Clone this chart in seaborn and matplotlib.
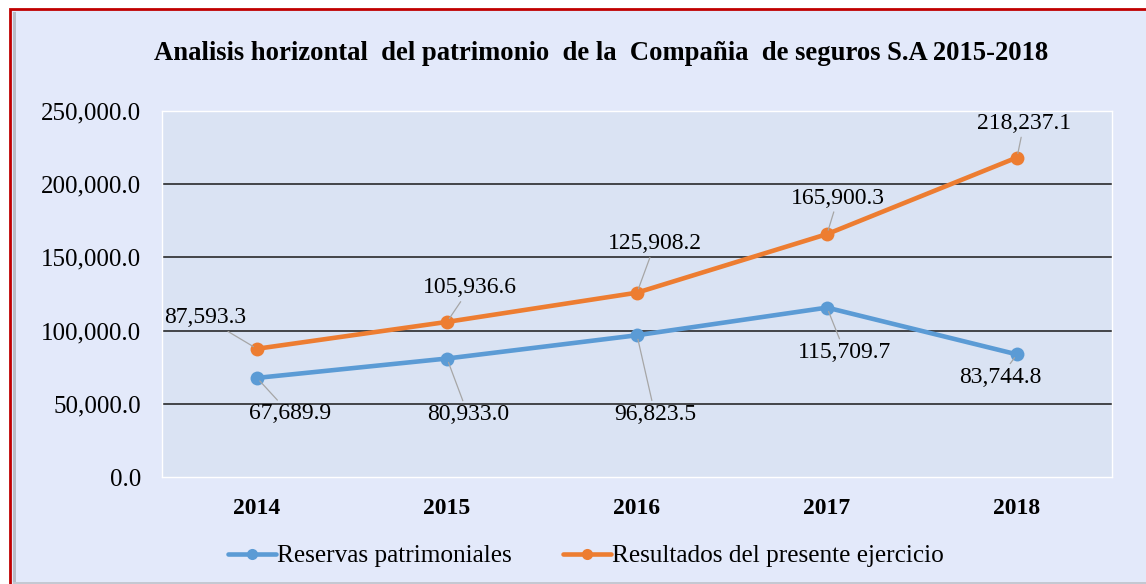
import matplotlib.pyplot as plt
import pandas as pd
import seaborn as sns
from matplotlib.patches import Rectangle

years = [2014, 2015, 2016, 2017, 2018]
reservas = [67689.9, 80933.0, 96823.5, 115709.7, 83744.8]
resultados = [87593.3, 105936.6, 125908.2, 165900.3, 218237.1]
series_names = ["Reservas patrimoniales", "Resultados del presente ejercicio"]
title = "Analisis horizontal  del patrimonio  de la  Compañia  de seguros S.A 2015-2018"

BLUE = "#5B9BD5"
ORANGE = "#ED7D31"

sns.set_theme(style="white")
plt.rcParams["font.family"] = ["Liberation Serif", "DejaVu Serif"]
plt.rcParams.update({"text.color": "black", "xtick.color": "black", "ytick.color": "black"})

df = pd.DataFrame({
    "year": years * 2,
    "value": reservas + resultados,
    "serie": [series_names[0]] * 5 + [series_names[1]] * 5,
})

W, H = 1146, 584
fig = plt.figure(figsize=(W / 100, H / 100), dpi=100)
fig.patch.set_facecolor("white")
# outer chart frame
fig.patches.append(Rectangle((10 / W, -2 / H), (W + 10) / W, (H - 7) / H, transform=fig.transFigure,
                             facecolor="#E3E9FA", edgecolor="#C00000", lw=2, zorder=-2))
fig.patches.append(Rectangle((13 / W, 0), 3 / W, (H - 12) / H, transform=fig.transFigure,
                             facecolor="#B8BCC6", edgecolor="none", zorder=-1))
fig.patches.append(Rectangle((13 / W, 0), (W - 13) / W, 2 / H, transform=fig.transFigure,
                             facecolor="#C4C8D2", edgecolor="none", zorder=-1))

ax = fig.add_axes([162 / W, (H - 477) / H, 950 / W, 366 / H])
ax.set_zorder(1)
ax.set_facecolor("#DAE3F3")

sns.lineplot(data=df, x="year", y="value", hue="serie", palette=[BLUE, ORANGE],
             marker="o", markersize=10, markeredgewidth=0, linewidth=3.3, ax=ax, legend=False)

ax.set_xlim(2013.5, 2018.5)
ax.set_ylim(0, 250000)
ax.set_yticks(range(0, 250001, 50000))
ax.set_yticklabels([f"{v:,.1f}" for v in range(0, 250001, 50000)], fontsize=18)
ax.set_xticks(years)
ax.set_xticklabels([str(y) for y in years], fontsize=17, fontweight="bold")
ax.tick_params(axis="y", length=0, pad=15)
ax.tick_params(axis="x", length=0, pad=15)
ax.set_xlabel("")
ax.set_ylabel("")
for v in range(50000, 250000, 50000):
    ax.axhline(v, color="#1a1a1a", lw=1.1, zorder=1)
for s in ax.spines.values():
    s.set_color("white")
    s.set_linewidth(1)

# data labels (pixel offsets from points)
off_res = [(33, -36), (21, -56), (18, -79), (18, -45), (-17, -23)]
off_out = [(-52, 31), (23, 34), (18, 49), (11, 36), (7, 34)]
arrow = dict(arrowstyle="-", color="#A6A6A6", lw=0.9, shrinkA=0, shrinkB=3)
for x, v, o in zip(years, reservas, off_res):
    ax.annotate(f"{v:,.1f}", (x, v), xytext=o, textcoords="offset pixels",
                ha="center", va="center", fontsize=17, color="black", arrowprops=arrow)
for x, v, o in zip(years, resultados, off_out):
    ax.annotate(f"{v:,.1f}", (x, v), xytext=o, textcoords="offset pixels",
                ha="center", va="center", fontsize=17, color="black", arrowprops=arrow)

fig.text(1 - 545 / W, 1 - 54 / H, title, ha="center", va="center", fontsize=19.2, fontweight="bold")

handles = [plt.Line2D([], [], color=c, marker="o", markersize=8, markeredgewidth=0, lw=3.3)
           for c in (BLUE, ORANGE)]
fig.legend(handles, series_names, loc="center left", bbox_to_anchor=(228 / W, 1 - 556 / H), ncol=2,
           frameon=False, fontsize=18.2, handlelength=1.9, handletextpad=0.05, columnspacing=2.0,
           borderpad=0, borderaxespad=0)

fig.savefig("out.png", dpi=100)
